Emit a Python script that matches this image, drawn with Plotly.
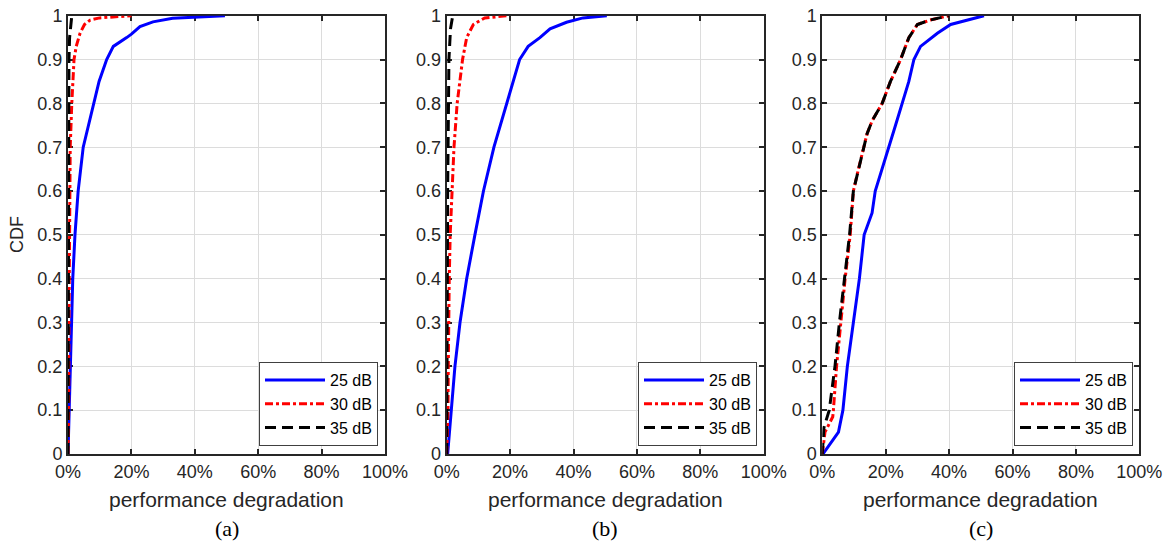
import plotly.graph_objects as go

# ---------------- data (x in %, y = CDF) ----------------
# panel (a)
a25_x = [0, 0.2, 0.5, 0.9, 1.2, 1.5, 2.2, 3.2, 4.8, 8, 9.8, 12.2, 14.3, 18.5, 20, 22.7, 26.8, 33, 49.5]
a25_y = [0, 0.05, 0.1, 0.2, 0.3, 0.4, 0.5, 0.6, 0.7, 0.8, 0.85, 0.9, 0.93, 0.95, 0.958, 0.975, 0.986, 0.994, 1]
a30_x = [0, 0.2, 0.3, 0.4, 0.5, 0.7, 1.2, 1.5, 1.9, 2.6, 3.8, 5.2, 7, 10, 20]
a30_y = [0, 0.1, 0.3, 0.5, 0.6, 0.7, 0.8, 0.85, 0.9, 0.93, 0.96, 0.98, 0.99, 0.995, 1]
a35_x = [0, 0.05, 0.1, 0.2, 0.3, 0.5, 1.2]
a35_y = [0, 0.2, 0.5, 0.8, 0.9, 0.95, 1]

# panel (b)
b25_x = [0.3, 0.9, 1.6, 2.6, 4.2, 6.3, 8.9, 11.6, 14.9, 18.9, 20.9, 23, 25.7, 29.4, 32.6, 37.8, 43, 50.5]
b25_y = [0, 0.05, 0.1, 0.2, 0.3, 0.4, 0.5, 0.6, 0.7, 0.8, 0.85, 0.9, 0.93, 0.95, 0.97, 0.985, 0.995, 1]
b30_x = [0, 0.4, 0.5, 0.6, 0.8, 1.1, 1.8, 2.3, 3.3, 5, 6.3, 8.4, 12, 19.4]
b30_y = [0, 0.1, 0.2, 0.3, 0.4, 0.5, 0.6, 0.7, 0.8, 0.9, 0.95, 0.98, 0.995, 1]
b35_x = [0, 0.1, 0.3, 0.7, 1.2, 1.9]
b35_y = [0, 0.3, 0.6, 0.9, 0.97, 1]

# panel (c)
c25_x = [0.2, 3, 4, 5.1, 6.5, 7.9, 9.8, 11.7, 13.2, 15.7, 16.7, 18.9, 21, 23.1, 25.2, 27.3, 28.9, 31, 36.3, 40.5, 51]
c25_y = [0, 0.03, 0.04, 0.05, 0.1, 0.2, 0.3, 0.4, 0.5, 0.55, 0.6, 0.65, 0.7, 0.75, 0.8, 0.85, 0.9, 0.93, 0.96, 0.98, 1]
c30_x = [0, 0.85, 3.3, 3.5, 4.5, 5.8, 7.2, 8.8, 9.8, 11.4, 13, 14.1, 15.7, 18.9, 21.5, 24.7, 27.3, 30, 34, 39.9]
c30_y = [0, 0.05, 0.085, 0.1, 0.2, 0.3, 0.4, 0.5, 0.6, 0.65, 0.7, 0.73, 0.76, 0.8, 0.85, 0.9, 0.95, 0.98, 0.99, 1]
c35_x = [0, 0.5, 2.2, 4, 5.4, 6.9, 8.6, 9.8, 11.4, 13, 14.1, 15.7, 18.9, 21.5, 24.7, 27.3, 30, 34, 39.9]
c35_y = [0, 0.06, 0.1, 0.2, 0.3, 0.4, 0.5, 0.6, 0.65, 0.7, 0.73, 0.76, 0.8, 0.85, 0.9, 0.95, 0.98, 0.99, 1]

series_names = ["25 dB", "30 dB", "35 dB"]
x_tick_vals = [0, 20, 40, 60, 80, 100]
x_tick_text = ["0%", "20%", "40%", "60%", "80%", "100%"]
y_tick_vals = [0, 0.1, 0.2, 0.3, 0.4, 0.5, 0.6, 0.7, 0.8, 0.9, 1]
y_tick_text = ["0", "0.1", "0.2", "0.3", "0.4", "0.5", "0.6", "0.7", "0.8", "0.9", "1"]
captions = ["(a)", "(b)", "(c)"]
x_title = "performance degradation"
y_title = "CDF"

# ---------------- styling ----------------
W, H = 1170, 544
x_dom_px = [(68, 385), (446.7, 763.7), (822.3, 1139.3)]
y_dom_px = (15.7, 454)
legend_right_px = [378, 757, 1133]
legend_bottom_px = 446

styles = [
    dict(color="rgb(0,0,255)", width=3, dash="solid"),
    dict(color="rgb(255,0,0)", width=3, dash="8px,3px,3px,3px"),
    dict(color="rgb(0,0,0)", width=3, dash="11px,6px"),
]
TXT = "#262626"
SANS = "Liberation Sans, Arial, sans-serif"
SERIF = "Liberation Serif, Times New Roman, serif"

panels = [
    [(a25_x, a25_y), (a30_x, a30_y), (a35_x, a35_y)],
    [(b25_x, b25_y), (b30_x, b30_y), (b35_x, b35_y)],
    [(c25_x, c25_y), (c30_x, c30_y), (c35_x, c35_y)],
]

fig = go.Figure()
layout = dict(
    width=W, height=H, autosize=False,
    margin=dict(l=0, r=0, t=0, b=0, pad=0, autoexpand=False),
    paper_bgcolor="white", plot_bgcolor="white",
    font=dict(family=SANS, color=TXT),
    annotations=[],
)

ydom = [1 - y_dom_px[1] / H, 1 - y_dom_px[0] / H]

for i, curves in enumerate(panels):
    sfx = "" if i == 0 else str(i + 1)
    leg = "legend" if i == 0 else "legend" + str(i + 1)
    for j, (xs, ys) in enumerate(curves):
        fig.add_trace(go.Scatter(
            x=xs, y=ys, mode="lines", name=series_names[j],
            line=styles[j],
            xaxis="x" + sfx, yaxis="y" + sfx,
            legend=leg,
        ))
    xd = [x_dom_px[i][0] / W, x_dom_px[i][1] / W]
    axis_common = dict(
        showline=True, linecolor=TXT, linewidth=2, mirror="ticks",
        ticks="inside", ticklen=5, tickwidth=1.5, tickcolor=TXT,
        showgrid=True, gridcolor="#dcdcdc", gridwidth=1,
        zeroline=False, tickfont=dict(size=18, color=TXT, family=SANS),
        fixedrange=True, layer="below traces", automargin=False,
    )
    layout["xaxis" + sfx] = dict(
        axis_common, domain=xd, range=[0, 100], anchor="y" + sfx,
        tickmode="array", tickvals=x_tick_vals, ticktext=x_tick_text,
    )
    layout["yaxis" + sfx] = dict(
        axis_common, domain=ydom, range=[0, 1], anchor="x" + sfx,
        tickmode="array", tickvals=y_tick_vals, ticktext=y_tick_text,
    )
    layout[leg] = dict(
        x=legend_right_px[i] / W, y=1 - legend_bottom_px / H,
        xanchor="right", yanchor="bottom",
        bgcolor="white", bordercolor="#404040", borderwidth=1,
        font=dict(size=16, color="black", family=SANS),
        tracegroupgap=0, itemwidth=60,
    )
    xc = (xd[0] + xd[1]) / 2
    layout["annotations"].append(dict(
        text=x_title, x=xc, y=1 - 499 / H, xref="paper", yref="paper",
        xanchor="center", yanchor="middle", showarrow=False,
        font=dict(size=21, color=TXT, family=SANS),
    ))
    layout["annotations"].append(dict(
        text=captions[i], x=xc, y=1 - 528 / H, xref="paper", yref="paper",
        xanchor="center", yanchor="middle", showarrow=False,
        font=dict(size=22, color="black", family=SERIF),
    ))

layout["annotations"].append(dict(
    text=y_title, x=17 / W, y=1 - 235 / H, xref="paper", yref="paper",
    xanchor="center", yanchor="middle", showarrow=False, textangle=-90,
    font=dict(size=18, color=TXT, family=SANS),
))

fig.update_layout(**layout)
fig.write_html("out.html")
